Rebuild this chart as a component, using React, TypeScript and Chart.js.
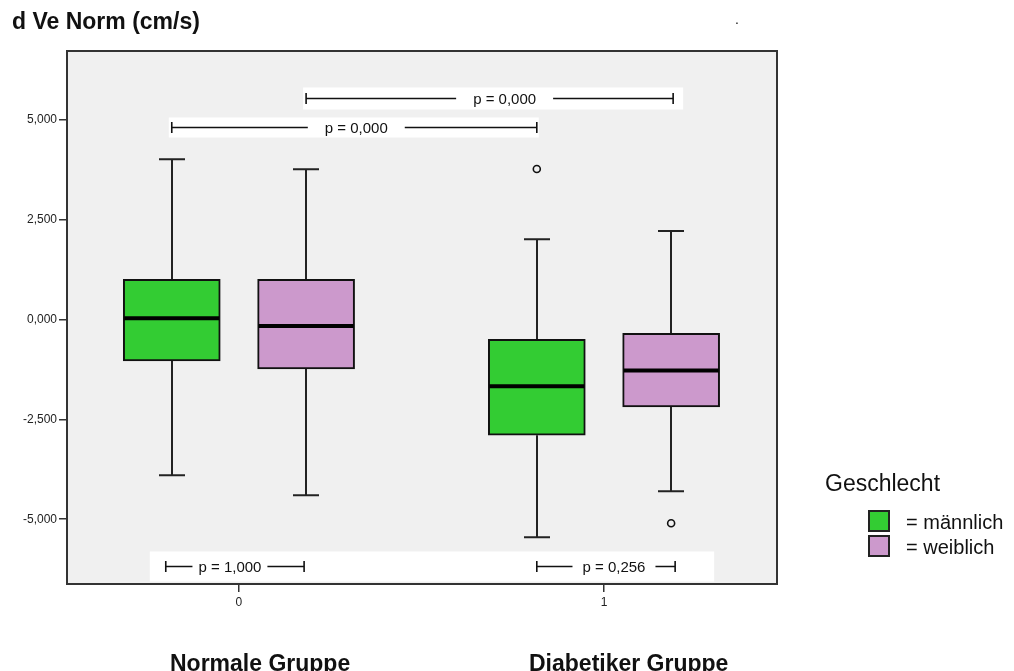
import React, { useEffect, useRef } from 'react';
import { Chart, registerables } from 'chart.js';

Chart.register(...registerables);

// ---- data ----
const groupTicks = [0, 1];
const groupTickLabels = ['0', '1'];
const groupNames = ['Normale Gruppe', 'Diabetiker Gruppe'];
const seriesNames = ['männlich', 'weiblich'];
const seriesColors = ['#33CC33', '#CC99CC'];

const maleMin = [-3.9, -5.45];
const maleQ1 = [-1.04, -2.9];
const maleMedian = [0.025, -1.675];
const maleQ3 = [1.0, -0.5];
const maleMax = [4.0, 2.0];
const maleOutliers: number[][] = [[], [3.76]];

const femaleMin = [-4.4, -4.3];
const femaleQ1 = [-1.24, -2.19];
const femaleMedian = [-0.17, -1.28];
const femaleQ3 = [1.0, -0.35];
const femaleMax = [3.75, 2.21];
const femaleOutliers: number[][] = [[], [-5.1]];

const yTickValues = [-5, -2.5, 0, 2.5, 5];
const yMin = -6.62;
const yMax = 6.71;

// p-value comparisons (group index, series index)
const pLabels = ['p = 0,000', 'p = 0,000', 'p = 1,000', 'p = 0,256'];
const pFromGroup = [0, 0, 0, 1];
const pFromSeries = [1, 0, 0, 0];
const pToGroup = [1, 1, 0, 1];
const pToSeries = [1, 0, 1, 1];
const pLevels = [5.535, 4.82, -6.17, -6.17];

// ---- layout / style constants ----
const SERIES_OFFSET = [-0.184, 0.184];
const BOX_W = 97;
const CAP_W = 26;
const FONT = "'Liberation Sans', Arial, sans-serif";
const pTextShift = [15, 2, -5, 8];
const pGapPad = [17, 17, 6, 10];
const pEndAdjust = [
  [0, 2],
  [0, 0],
  [-6, -2],
  [0, 4],
];
const pRows = [[0], [1], [2, 3]];
const pRowPad = [
  [3, 10, 22],
  [3, 2, 20],
  [16, 39, 30],
];

const stats = [
  { min: maleMin, q1: maleQ1, med: maleMedian, q3: maleQ3, max: maleMax },
  { min: femaleMin, q1: femaleQ1, med: femaleMedian, q3: femaleQ3, max: femaleMax },
];

const boxPlugin = {
  id: 'boxExtras',
  beforeDraw(chart: any) {
    const { ctx, chartArea: a } = chart;
    ctx.save();
    ctx.fillStyle = '#F0F0F0';
    ctx.fillRect(a.left, a.top, a.right - a.left, a.bottom - a.top);
    ctx.restore();
  },
  beforeDatasetsDraw(chart: any) {
    const { ctx } = chart;
    const xs = chart.scales.x;
    const ys = chart.scales.y;
    ctx.save();
    ctx.strokeStyle = '#222';
    ctx.lineWidth = 2;
    stats.forEach((s, si) => {
      groupTicks.forEach((g, gi) => {
        const x = Math.round(xs.getPixelForValue(g + SERIES_OFFSET[si]));
        const yq3 = ys.getPixelForValue(s.q3[gi]);
        const yhi = ys.getPixelForValue(s.max[gi]);
        const yq1 = ys.getPixelForValue(s.q1[gi]);
        const ylo = ys.getPixelForValue(s.min[gi]);
        ctx.beginPath();
        ctx.moveTo(x, yq3);
        ctx.lineTo(x, yhi);
        ctx.moveTo(x - CAP_W / 2, yhi);
        ctx.lineTo(x + CAP_W / 2, yhi);
        ctx.moveTo(x, yq1);
        ctx.lineTo(x, ylo);
        ctx.moveTo(x - CAP_W / 2, ylo);
        ctx.lineTo(x + CAP_W / 2, ylo);
        ctx.stroke();
      });
    });
    ctx.restore();
  },
  afterDatasetsDraw(chart: any) {
    const { ctx } = chart;
    const xs = chart.scales.x;
    const ys = chart.scales.y;
    ctx.save();
    // medians
    ctx.strokeStyle = '#000';
    ctx.lineWidth = 4;
    stats.forEach((s, si) => {
      groupTicks.forEach((g, gi) => {
        const x = xs.getPixelForValue(g + SERIES_OFFSET[si]);
        const y = ys.getPixelForValue(s.med[gi]);
        ctx.beginPath();
        ctx.moveTo(x - BOX_W / 2 + 1, y);
        ctx.lineTo(x + BOX_W / 2 - 1, y);
        ctx.stroke();
      });
    });
    // p-value annotations
    const ends = pLabels.map((_, k) => {
      const x1 = xs.getPixelForValue(groupTicks[pFromGroup[k]] + SERIES_OFFSET[pFromSeries[k]]) + pEndAdjust[k][0];
      const x2 = xs.getPixelForValue(groupTicks[pToGroup[k]] + SERIES_OFFSET[pToSeries[k]]) + pEndAdjust[k][1];
      const y = Math.round(ys.getPixelForValue(pLevels[k])) + 0.5;
      return { x1, x2, y };
    });
    pRows.forEach((row, ri) => {
      const left = Math.min(...row.map((k) => ends[k].x1)) - pRowPad[ri][0];
      const right = Math.max(...row.map((k) => ends[k].x2)) + pRowPad[ri][1];
      const h = pRowPad[ri][2];
      const y = ends[row[0]].y;
      ctx.fillStyle = '#FFFFFF';
      ctx.fillRect(left, y - h / 2, right - left, h);
    });
    ctx.font = `15px ${FONT}`;
    ctx.textAlign = 'center';
    ctx.textBaseline = 'middle';
    pLabels.forEach((label, k) => {
      const { x1, x2, y } = ends[k];
      const tc = (x1 + x2) / 2 + pTextShift[k];
      const w = ctx.measureText(label).width;
      const g1 = tc - w / 2 - pGapPad[k];
      const g2 = tc + w / 2 + pGapPad[k];
      ctx.strokeStyle = '#111';
      ctx.lineWidth = 1.6;
      ctx.beginPath();
      ctx.moveTo(x1, y);
      ctx.lineTo(g1, y);
      ctx.moveTo(g2, y);
      ctx.lineTo(x2, y);
      ctx.moveTo(x1, y - 5.5);
      ctx.lineTo(x1, y + 5.5);
      ctx.moveTo(x2, y - 5.5);
      ctx.lineTo(x2, y + 5.5);
      ctx.stroke();
      ctx.fillStyle = '#111';
      ctx.fillText(label, tc, y + 1);
    });
    ctx.restore();
  },
  afterDraw(chart: any) {
    const { ctx, chartArea: a } = chart;
    ctx.save();
    ctx.strokeStyle = '#333';
    ctx.lineWidth = 2;
    ctx.strokeRect(a.left, a.top, a.right - a.left, a.bottom - a.top);
    ctx.restore();
  },
};

const legendSwatch = (color: string): React.CSSProperties => ({
  position: 'absolute',
  width: 18,
  height: 18,
  background: color,
  border: '2px solid #222',
});

export default function App() {
  const canvasRef = useRef<HTMLCanvasElement | null>(null);

  useEffect(() => {
    const canvas = canvasRef.current;
    if (!canvas) return;
    const boxDatasets = stats.map((s, si) => ({
      type: 'bar' as const,
      label: seriesNames[si],
      data: groupTicks.map((g, gi) => ({ x: g + SERIES_OFFSET[si], y: [s.q1[gi], s.q3[gi]] })),
      backgroundColor: seriesColors[si],
      borderColor: '#111',
      borderWidth: 2,
      borderSkipped: false,
      barThickness: BOX_W,
      grouped: false,
    }));
    const outlierSets = [maleOutliers, femaleOutliers];
    const outlierDatasets = outlierSets.map((outs, si) => ({
      type: 'scatter' as const,
      label: seriesNames[si] + ' Ausreißer',
      data: outs.flatMap((vals, gi) => vals.map((v) => ({ x: groupTicks[gi] + SERIES_OFFSET[si], y: v }))),
      pointStyle: 'circle',
      pointRadius: 3.5,
      pointBorderWidth: 1.6,
      pointBorderColor: '#111',
      pointBackgroundColor: 'rgba(0,0,0,0)',
      showLine: false,
    }));

    const chart = new Chart(canvas, {
      type: 'bar',
      data: { datasets: [...boxDatasets, ...outlierDatasets] as any },
      options: {
        animation: false,
        responsive: false,
        devicePixelRatio: 1,
        layout: { padding: { left: 0, top: 51, right: 237, bottom: 57 } },
        plugins: {
          legend: { display: false },
          tooltip: { enabled: false },
          title: { display: false },
        },
        scales: {
          x: {
            type: 'linear',
            min: -0.471,
            max: 1.474,
            offset: false,
            afterBuildTicks: (s: any) => {
              s.ticks = groupTicks.map((v) => ({ value: v }));
            },
            afterFit: (s: any) => {
              s.height = 30;
            },
            ticks: {
              callback: (_v: any, i: number) => groupTickLabels[i],
              font: { family: FONT, size: 12 },
              color: '#222',
              padding: 3,
              autoSkip: false,
              maxRotation: 0,
            },
            grid: { drawOnChartArea: false, offset: false, tickLength: 8, color: '#333', lineWidth: 1.5 },
            border: { display: false },
          },
          y: {
            type: 'linear',
            min: yMin,
            max: yMax,
            afterBuildTicks: (s: any) => {
              s.ticks = yTickValues.map((v) => ({ value: v }));
            },
            afterFit: (s: any) => {
              s.width = 67;
            },
            ticks: {
              callback: (v: any) => Number(v).toFixed(3).replace('.', ','),
              font: { family: FONT, size: 12 },
              color: '#222',
              padding: 2,
            },
            grid: { drawOnChartArea: false, tickLength: 8, color: '#333', lineWidth: 1.5 },
            border: { display: false },
          },
        },
      } as any,
      plugins: [boxPlugin],
    });
    return () => chart.destroy();
  }, []);

  return (
    <div
      style={{
        position: 'absolute',
        left: 0,
        top: 0,
        width: 1014,
        height: 671,
        overflow: 'hidden',
        background: '#FFFFFF',
        fontFamily: FONT,
        color: '#111',
      }}
    >
      <canvas
        ref={canvasRef}
        width={1014}
        height={671}
        style={{ position: 'absolute', left: 0, top: 0, width: 1014, height: 671 }}
      />
      <div style={{ position: 'absolute', left: 12, top: 10, fontSize: 23, lineHeight: '23px', fontWeight: 'bold', whiteSpace: 'nowrap' }}>
        d Ve Norm (cm/s)
      </div>
      <div style={{ position: 'absolute', left: 735, top: 12, fontSize: 14, lineHeight: '14px' }}>.</div>
      <div style={{ position: 'absolute', left: 170, top: 652, fontSize: 23, lineHeight: '23px', fontWeight: 'bold', whiteSpace: 'nowrap' }}>
        {groupNames[0]}
      </div>
      <div style={{ position: 'absolute', left: 529, top: 652, fontSize: 23, lineHeight: '23px', fontWeight: 'bold', whiteSpace: 'nowrap' }}>
        {groupNames[1]}
      </div>
      <div style={{ position: 'absolute', left: 825, top: 472, fontSize: 23, lineHeight: '23px', whiteSpace: 'nowrap' }}>
        Geschlecht
      </div>
      <div style={{ ...legendSwatch(seriesColors[0]), left: 868, top: 510 }} />
      <div style={{ ...legendSwatch(seriesColors[1]), left: 868, top: 535 }} />
      <div style={{ position: 'absolute', left: 906, top: 512, fontSize: 20, lineHeight: '20px', whiteSpace: 'nowrap' }}>
        = {seriesNames[0]}
      </div>
      <div style={{ position: 'absolute', left: 906, top: 537, fontSize: 20, lineHeight: '20px', whiteSpace: 'nowrap' }}>
        = {seriesNames[1]}
      </div>
    </div>
  );
}
